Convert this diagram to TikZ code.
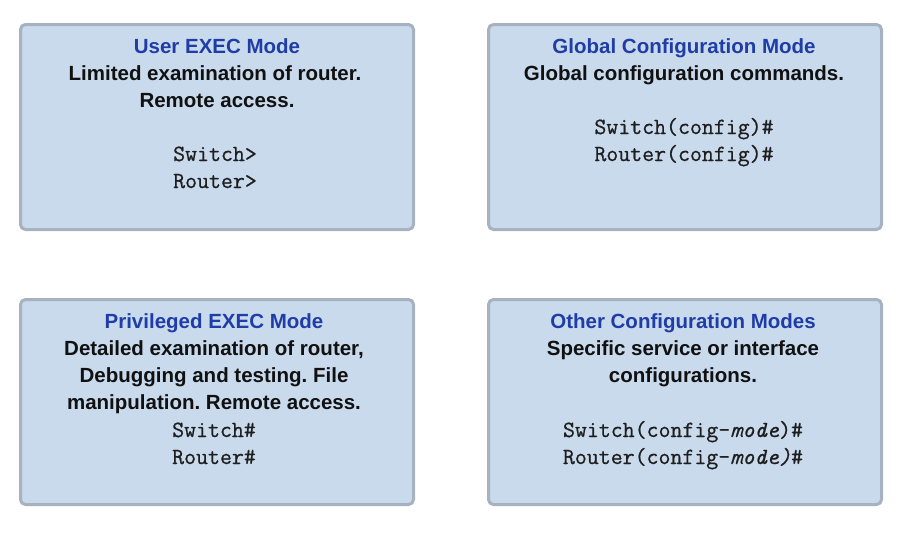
\documentclass[tikz,border=0pt]{standalone}
\usepackage{fontspec}
\setmainfont{Liberation Sans}
\newfontfamily\cmono{Latin Modern Mono}[FakeBold=0.7]
\frenchspacing
\definecolor{boxfill}{HTML}{C9DAED}
\definecolor{boxline}{HTML}{A7B2C1}
\definecolor{titleblue}{HTML}{1F3DA6}
\definecolor{bodyblack}{HTML}{111111}
\definecolor{monogray}{HTML}{1E1E1E}
\tikzset{
  modebox/.style={draw=boxline, fill=boxfill, line width=3pt, rounded corners=5pt,
    minimum width=393pt, minimum height=205pt, inner sep=0pt},
  titletext/.style={anchor=base, inner sep=0pt, text=titleblue,
    font=\fontsize{20.5}{27}\selectfont\bfseries},
  bodytext/.style={anchor=base, inner sep=0pt, text=bodyblack,
    font=\fontsize{20.5}{27}\selectfont\bfseries},
  monotext/.style={anchor=base, inner sep=0pt, text=monogray,
    font=\fontsize{23.2}{27}\selectfont\cmono}
}
\begin{document}
\begin{tikzpicture}[x=1pt,y=-1pt]
\path[use as bounding box] (0,0) rectangle (910,533);
\fill[white] (0,0) rectangle (910,533);
% boxes
\node[modebox] (ue) at (217,127) {};
\node[modebox] (gc) at (685,127) {};
\node[modebox] (pe) at (217,402) {};
\node[modebox] (oc) at (685,402) {};
% User EXEC
\node[titletext] (ue0) at (217,53) {User EXEC Mode};
\node[bodytext] (ue1) at (215,80) {Limited examination of router.};
\node[bodytext] (ue2) at (217,107) {Remote access.};
\node[monotext] (ue3) at (215,161) {Switch>};
\node[monotext] (ue4) at (215,188) {Router>};
% Global config
\node[titletext] (gc0) at (684,53) {Global Configuration Mode};
\node[bodytext] (gc1) at (684,80) {Global configuration commands.};
\node[monotext] (gc2) at (684,134) {Switch(config)\#};
\node[monotext] (gc3) at (684,161) {Router(config)\#};
% Privileged EXEC
\node[titletext] (pe0) at (214,328) {Privileged EXEC Mode};
\node[bodytext] (pe1) at (214,355) {Detailed examination of router,};
\node[bodytext] (pe2) at (214,382) {Debugging and testing. File};
\node[bodytext] (pe3) at (214,409) {manipulation. Remote access.};
\node[monotext] (pe4) at (214,437) {Switch\#};
\node[monotext] (pe5) at (214,464) {Router\#};
% Other config
\node[titletext] (oc0) at (683,328) {Other Configuration Modes};
\node[bodytext] (oc1) at (683,355) {Specific service or interface};
\node[bodytext] (oc2) at (683,382) {configurations.};
\node[monotext] (oc3) at (683,437) {Switch(config-\textit{mode})\#};
\node[monotext] (oc4) at (683,464) {Router(config-\textit{mode)}\#};
\end{tikzpicture}
\end{document}
